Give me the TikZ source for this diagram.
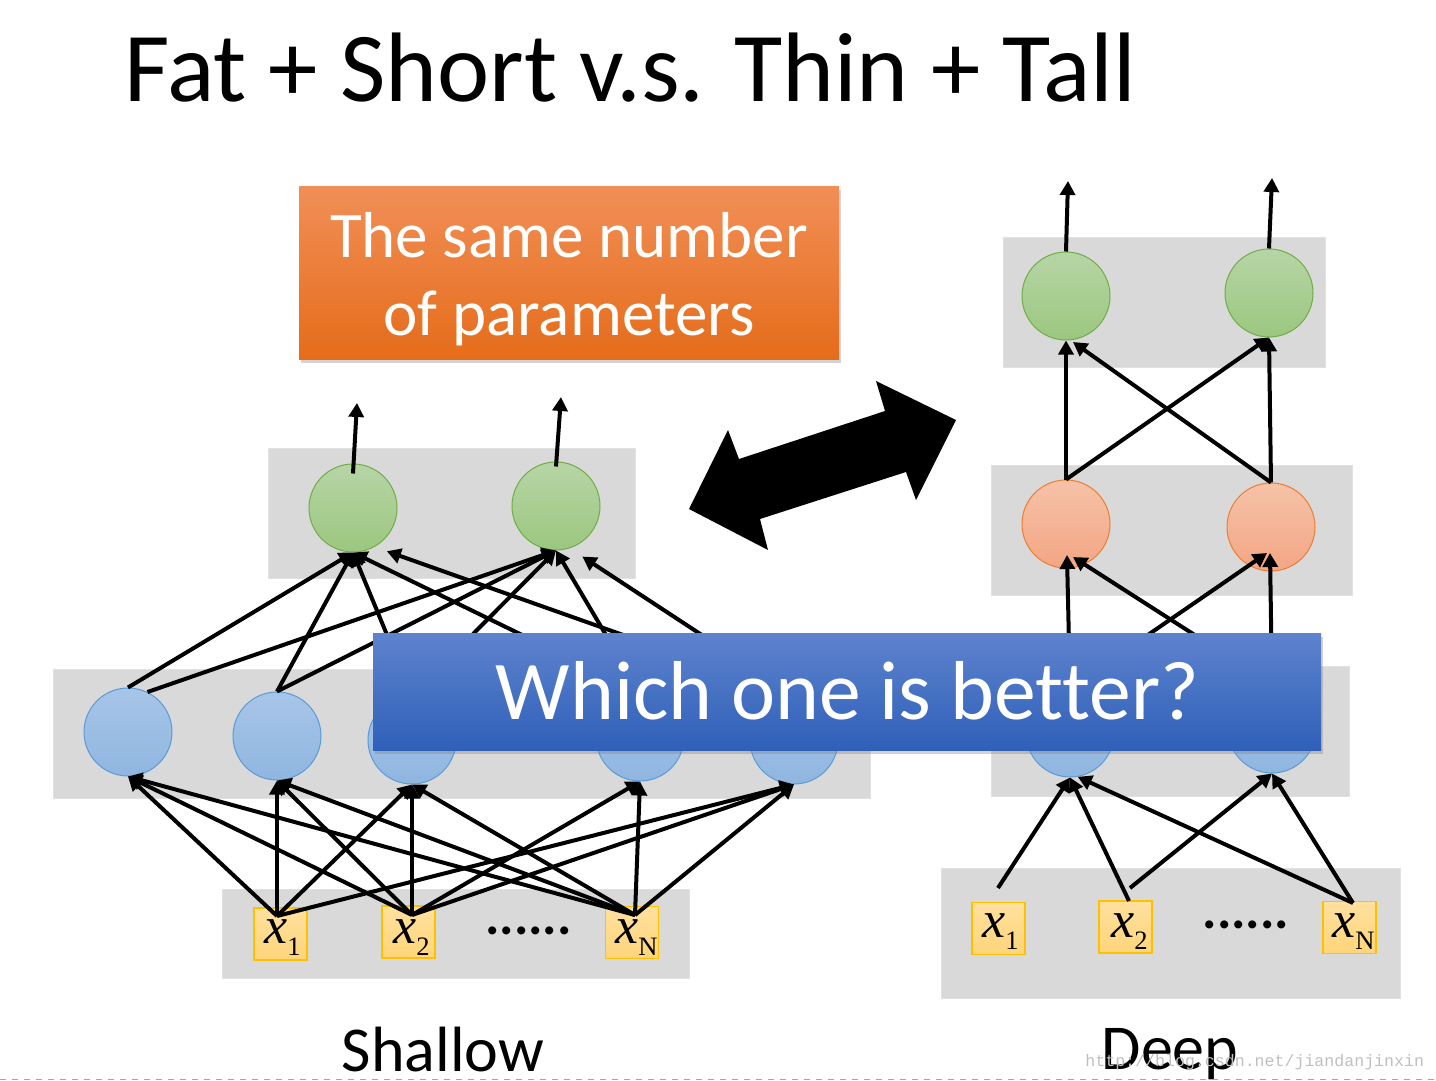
\documentclass[tikz,border=0pt]{standalone}
\usepackage{fontspec}
\setmainfont{Carlito}[Ligatures=NoCommon]
\newfontfamily\timesfont{Liberation Serif}
\newfontfamily\wmfont{Liberation Mono}
\usetikzlibrary{arrows.meta,shadows}
\definecolor{layergray}{RGB}{217,217,217}
\definecolor{layeredge}{RGB}{225,225,225}
\definecolor{gtop}{RGB}{183,213,166}
\definecolor{gbot}{RGB}{155,199,127}
\definecolor{gedge}{RGB}{112,173,71}
\definecolor{otop}{RGB}{246,194,168}
\definecolor{obot}{RGB}{243,166,132}
\definecolor{oedge}{RGB}{237,125,49}
\definecolor{btop}{RGB}{168,197,232}
\definecolor{bbot}{RGB}{143,182,224}
\definecolor{bedge}{RGB}{91,155,213}
\definecolor{itop}{RGB}{255,224,158}
\definecolor{ibot}{RGB}{255,213,122}
\definecolor{iedge}{RGB}{255,192,0}
\definecolor{whtop}{RGB}{94,131,206}
\definecolor{whbot}{RGB}{47,96,184}
\definecolor{ortop}{RGB}{241,143,87}
\definecolor{orbot}{RGB}{229,108,26}
\begin{document}
\begin{tikzpicture}[x=0.5pt,y=-0.5pt,
  layer/.style={fill=layergray,draw=layeredge,line width=0.5pt},
  neuron/.style={circle,minimum size=44pt,inner sep=0pt,line width=0.5pt},
  gneuron/.style={neuron,top color=gtop,bottom color=gbot,draw=gedge},
  oneuron/.style={neuron,top color=otop,bottom color=obot,draw=oedge},
  bneuron/.style={neuron,top color=btop,bottom color=bbot,draw=bedge},
  inbox/.style={rectangle,minimum width=26.5pt,minimum height=26pt,inner sep=0pt,top color=itop,bottom color=ibot,draw=iedge,line width=0.6pt},
  arr/.style={line width=2pt,-{Triangle[length=7pt,width=7.5pt]}},
  xlab/.style={anchor=base west,inner sep=0pt,font=\timesfont\itshape\fontsize{26}{26}\selectfont},
  dots/.style={anchor=base,inner sep=0pt,font=\bfseries\fontsize{27}{27}\selectfont},
  caption/.style={anchor=base,inner sep=0pt,font=\fontsize{32}{32}\selectfont},
  shadowed/.style={drop shadow={opacity=0.35,shadow xshift=0.8pt,shadow yshift=-1.8pt}}
]
\useasboundingbox (0,0) rectangle (1436,1081);
\newcommand{\subtxt}[1]{\raisebox{-6pt}{\upshape\fontsize{13.3}{13.3}\selectfont #1}}

% title
\node[anchor=base west,inner sep=0pt,font=\fontsize{49.4}{49.4}\selectfont] (title) at (124,102) {Fat + Short v.s. Thin + Tall};

% ---------- Shallow network ----------
\draw[layer] (268,448) rectangle (635,578);
\draw[layer] (53,669) rectangle (870,798);
\draw[layer] (222,889) rectangle (689,978);

\node[gneuron] (sg1) at (353,508) {};
\node[gneuron] (sg2) at (556,506) {};
\node[bneuron] (c1) at (128,732) {};
\node[bneuron] (c2) at (277,736) {};
\node[bneuron] (c3) at (412,740) {};
\node[bneuron] (c4) at (640,737) {};
\node[bneuron] (c5) at (794,740) {};

\node[inbox] (sx1) at (280.5,934) {};
\node[inbox] (sx2) at (408.5,932) {};
\node[inbox] (sxN) at (632,932.5) {};
\node[xlab] (lsx1) at (264,943) {x\subtxt{1}};
\node[xlab] (lsx2) at (393,943) {x\subtxt{2}};
\node[xlab] (lsxN) at (615,943) {x\subtxt{N}};
\node[dots] (sdots) at (528.5,934) {......};

\coordinate (sx1t) at (277,916);
\coordinate (sx2t) at (412,915);
\coordinate (sxNt) at (635,915);

% input -> hidden
\foreach \h in {c1,c2,c3,c5} \draw[arr] (sx1t) -- (\h.south);
\foreach \h in {c1,c2,c3,c4,c5} \draw[arr] (sx2t) -- (\h.south);
\foreach \h in {c1,c2,c3,c4,c5} \draw[arr] (sxNt) -- (\h.south);

% hidden -> output
\draw[arr] (c1.north) -- (sg1.south);
\draw[arr] (c1.64) -- (sg2.south);
\draw[arr] (c2.north) -- (sg1.south);
\draw[arr] (c2.north) -- (sg2.south);
\draw[arr] (c3.north) -- (sg1.south);
\draw[arr] (c3.north) -- (sg2.south);
\draw[arr] (c4.north) -- (sg1.south);
\draw[arr] (c4.north) -- (sg2.south);
\draw[arr,shorten >=6.5pt] (c5.north) -- (sg1.-61);
\draw[arr,shorten >=7.5pt] (c5.north) -- (sg2.-72);

% outputs
\coordinate (sout1) at (357,403);
\coordinate (sout2) at (561,397);
\draw[arr] ([yshift=-5pt]sg1.north) -- (sout1);
\draw[arr] ([yshift=-2.5pt]sg2.north) -- (sout2);

% ---------- Deep network ----------
\draw[layer] (1003,237) rectangle (1325,367);
\draw[layer] (991,465) rectangle (1352,595);
\draw[layer] (991,666) rectangle (1349,796);
\draw[layer] (941,868) rectangle (1400,998);

\node[gneuron] (dg1) at (1066,296) {};
\node[gneuron] (dg2) at (1269,293) {};
\node[oneuron] (do1) at (1066,524) {};
\node[oneuron] (do2) at (1271,527) {};
\node[bneuron] (db1) at (1070,733) {};
\node[bneuron] (db2) at (1272,729) {};

\node[inbox] (dx1) at (998.5,928.5) {};
\node[inbox] (dx2) at (1125.5,927) {};
\node[inbox] (dxN) at (1349.5,927.5) {};
\node[xlab] (ldx1) at (982,937) {x\subtxt{1}};
\node[xlab] (ldx2) at (1111,937) {x\subtxt{2}};
\node[xlab] (ldxN) at (1332,937) {x\subtxt{N}};
\node[dots] (ddots) at (1246,928) {......};

\coordinate (dx1t) at (998,888);
\coordinate (dx2ta) at (1129,901);
\coordinate (dx2tb) at (1130,888);
\coordinate (dxNt) at (1353,903);

\draw[arr] (dx1t) -- (db1.south);
\draw[arr] (dx2ta) -- (db1.south);
\draw[arr] (dx2tb) -- (db2.south);
\draw[arr] (dxNt) -- (db1.-80);
\draw[arr] (dxNt) -- (db2.south);

\draw[arr] (db1.north) -- ([shift={(1,31)}]do1.center);
\draw[arr] (db2.north) -- ([shift={(7,33)}]do1.center);
\draw[arr] (db1.north) -- ([shift={(-4,26)}]do2.center);
\draw[arr] (db2.north) -- ([shift={(-1,26)}]do2.center);

\draw[arr] (do1.north) -- (dg1.south);
\draw[arr] (do1.north) -- (dg2.south);
\draw[arr] (do2.north) -- ([shift={(7,46)}]dg1.center);
\draw[arr] (do2.north) -- (dg2.south);

\coordinate (dout1) at (1068,181);
\coordinate (dout2) at (1272,178);
\draw[arr] (dg1.north) -- (dout1);
\draw[arr] (dg2.north) -- (dout2);

% ---------- boxes ----------
\node[rectangle,minimum width=270pt,minimum height=86.5pt,inner sep=0pt,
      top color=ortop,bottom color=orbot,shadowed] (same) at (569,273) {};
\node[align=center,inner sep=0pt,text=white,font=\fontsize{32.5}{39}\selectfont]
      (sametxt) at (569,279) {The same number\\of parameters};

\node[rectangle,minimum width=474pt,minimum height=58.5pt,inner sep=0pt,
      top color=whtop,bottom color=whbot,shadowed] (which) at (847,691.5) {};
\node[anchor=base,inner sep=0pt,text=white,font=\fontsize{41.8}{41.8}\selectfont]
      (whichtxt) at (847.5,719) {Which one is better?};

% double arrow
\fill[black] (689,509) -- (728,430) -- (739,459) -- (885,411) -- (876,381) -- (956,420)
  -- (916,500) -- (906,472) -- (760,519) -- (768,550) -- cycle;

% captions
\node[caption] (shallow) at (443,1071) {Shallow};
\node[caption] (deep) at (1170,1069) {Deep};

% watermark and page edge
\node[anchor=base west,inner sep=0pt,text=black!25,font=\wmfont\fontsize{8.3}{8.3}\selectfont] (wm) at (1085,1066) {http://blog.csdn.net/jiandanjinxin};
\draw[black!35,dashed,line width=0.5pt] (0,1079) -- (1436,1079);
\end{tikzpicture}
\end{document}
